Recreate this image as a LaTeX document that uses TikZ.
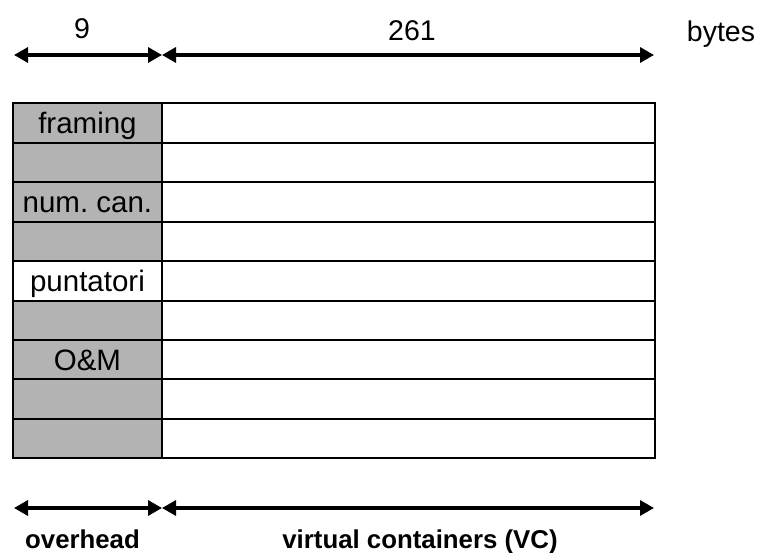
\documentclass[tikz,border=0pt]{standalone}
\usepackage{fontspec}
\setmainfont{Liberation Sans}
\usetikzlibrary{arrows.meta}
\definecolor{ohgrey}{RGB}{179,179,179}
\frenchspacing
\tikzset{
  cellbase/.style={draw=black, line width=2pt, minimum height=39.4pt, inner sep=0pt, outer sep=0pt,
    text height=21.6pt, text depth=0pt, font=\fontsize{29.5}{31}\selectfont},
  ohcell/.style={cellbase, minimum width=148.3pt},
  ohgreycell/.style={ohcell, fill=ohgrey},
  vccell/.style={cellbase, minimum width=493pt},
  dimboth/.style={line width=3.2pt, {Triangle[length=14pt,width=15pt]}-{Triangle[length=14pt,width=15pt]}},
  toplabel/.style={font=\fontsize{28.5}{30}\selectfont, inner sep=0pt, anchor=base},
  botlabel/.style={font=\fontsize{25.8}{27}\selectfont\bfseries, inner sep=0pt, anchor=base}
}
\begin{document}
\begin{tikzpicture}[x=1pt,y=-1pt]
  \useasboundingbox (0,0) rectangle (757,553);
  % overhead column and payload rows
  \foreach \i/\txt/\st in {1/framing/ohgreycell, 2//ohgreycell, 3/num. can./ohgreycell, 4//ohgreycell, 5/puntatori/ohcell, 6//ohgreycell, 7/O\&M/ohgreycell, 8//ohgreycell, 9//ohgreycell}{
    \node[\st] (oh\i) at (87.45, {103.5 + 39.4*(\i-0.5)}) {\txt};
    \node[vccell, anchor=west] (vc\i) at (oh\i.east) {};
  }
  % top dimension arrows
  \coordinate (tl) at (14,55);
  \coordinate (tm) at (162,55);
  \coordinate (tr) at (654,55);
  \draw[dimboth] (tl) -- (tm);
  \draw[dimboth] (tm) -- (tr);
  \node[toplabel] (n9) at (82,39) {9};
  \node[toplabel] (n261) at (412,41) {261};
  \node[toplabel] (nbytes) at (721,42) {bytes};
  % bottom dimension arrows
  \coordinate (bl) at (14,508);
  \coordinate (bm) at (162,508);
  \coordinate (br) at (654,508);
  \draw[dimboth] (bl) -- (bm);
  \draw[dimboth] (bm) -- (br);
  \node[botlabel] (noh) at (82.5,548) {overhead};
  \node[botlabel] (nvc) at (420,548) {virtual containers (VC)};
\end{tikzpicture}
\end{document}
